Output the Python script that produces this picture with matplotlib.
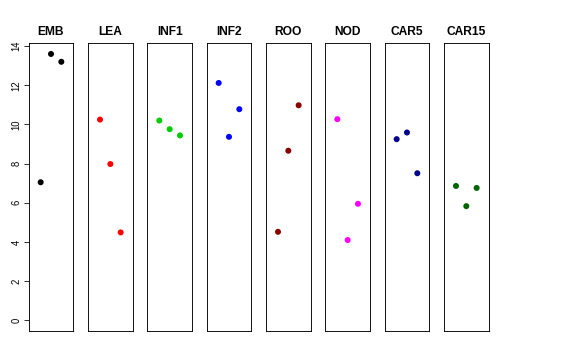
import numpy as np
import matplotlib
matplotlib.use("Agg")
import matplotlib.pyplot as plt

plt.rcParams['font.family'] = ['Liberation Sans', 'DejaVu Sans']

# tissues and values (3 replicates each)
tissues = ["EMB", "LEA", "INF1", "INF2", "ROO", "NOD", "CAR5", "CAR15"]
colors = ["black", "red", "#00CD00", "blue", "#8B0000", "magenta", "#00008B", "#006400"]
values = [
    [7.05, 13.6, 13.2],
    [10.25, 7.98, 4.49],
    [10.2, 9.76, 9.44],
    [12.12, 9.37, 10.78],
    [4.52, 8.66, 10.98],
    [10.27, 4.10, 5.95],
    [9.25, 9.59, 7.51],
    [6.86, 5.83, 6.76],
]
reps = [1, 2, 3]
yticks = [0, 2, 4, 6, 8, 10, 12, 14]

W, H = 576, 360
fig = plt.figure(figsize=(W / 72, H / 72), dpi=72)

ymax = max(max(v) for v in values)
pad = 0.04 * ymax
for i, (name, col, vals) in enumerate(zip(tissues, colors, values)):
    left = 28.7 + i * 59.33
    ax = fig.add_axes([left / W, (H - 331) / H, 44.6 / W, (331 - 43.3) / H])
    ax.scatter(reps, vals, color=col, s=36, zorder=3, edgecolors='none')
    ax.set_xlim(-0.16, 4.16)
    ax.set_ylim(-pad, ymax + pad)
    ax.set_xticks([])
    ax.set_title(name, fontsize=12, fontweight='bold', pad=8)
    for s in ax.spines.values():
        s.set_linewidth(0.9)
    if i == 0:
        ax.set_yticks(yticks)
        ax.set_yticklabels([str(t) for t in yticks], rotation=90, va='center', fontsize=9.5)
        ax.tick_params(axis='y', length=5, pad=2)
    else:
        ax.set_yticks([])

fig.savefig("out.png", dpi=72)
